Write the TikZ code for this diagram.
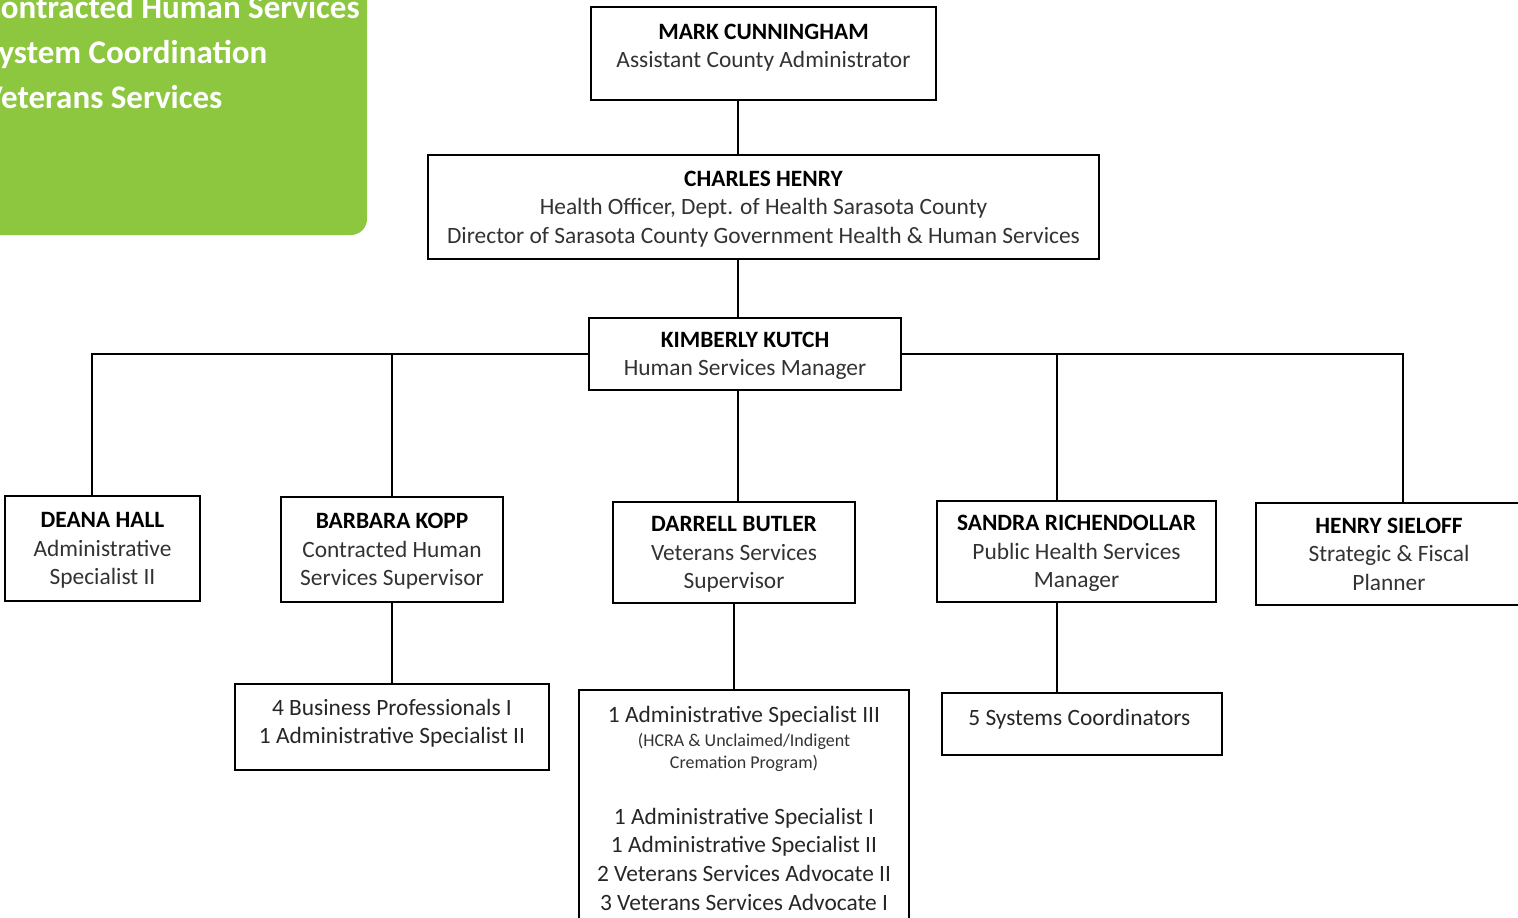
\documentclass[tikz,border=0pt]{standalone}
\usepackage{fontspec}
\setmainfont{Carlito}
\usetikzlibrary{positioning, calc}

\definecolor{panelgreen}{RGB}{141,199,64}
\definecolor{titlegray}{RGB}{50,50,50}

\begin{document}
\begin{tikzpicture}[
  x=0.5pt, y=-0.5pt,
  block/.style = {
    draw,
    line width=1pt,
    text=titlegray,
    font=\fontsize{11.7}{14.3}\selectfont,
    align=center,
    inner sep=2pt,
    text depth=0pt
  },
  staff/.style = {
    block,
    text=black!85
  },
  connector/.style = {line width=1pt},
  panel/.style = {fill=panelgreen, rounded corners=8pt},
  paneltext/.style = {
    text=white,
    font=\fontsize{16.5}{22.5}\selectfont\bfseries,
    align=left,
    inner sep=0pt
  }
]

\useasboundingbox (0,0) rectangle (1518,917);

% ======================================================
% GREEN PANEL (top left)
% ======================================================

\fill[panel] (-40,-40) rectangle (367,235);
\node[paneltext, anchor=north west] (areas) at (-17,-5) {
  Contracted Human Services\\
  System Coordination\\
  Veterans Services
};

% ======================================================
% TOP OF THE CHART
% ======================================================

\node[block, minimum width=172.5pt, minimum height=46.5pt, text depth=7.5pt] (mark) at (763.5,53.5) {
  \textcolor{black}{\textbf{MARK CUNNINGHAM}}\\
  Assistant County Administrator
};

\node[block, minimum width=335.5pt, minimum height=52pt] (charles) at (763.5,207) {
  \textcolor{black}{\textbf{CHARLES HENRY}}\\
  Health Officer, Dept. of Health Sarasota County\\
  Director of Sarasota County Government Health \& Human Services
};

\node[block, minimum width=156pt, minimum height=36pt] (kimberly) at (745,354) {
  \textcolor{black}{\textbf{KIMBERLY KUTCH}}\\
  Human Services Manager
};

% ======================================================
% SUPERVISORS
% ======================================================

\node[block, minimum width=97.5pt, minimum height=52.5pt] (deana) at (102.5,548.5) {
  \textcolor{black}{\textbf{DEANA HALL}}\\
  Administrative\\
  Specialist II
};

\node[block, minimum width=111pt, minimum height=52.5pt] (barbara) at (392,549.5) {
  \textcolor{black}{\textbf{BARBARA KOPP}}\\
  Contracted Human\\
  Services Supervisor
};

\node[block, minimum width=121pt, minimum height=50.5pt, text depth=-2.5pt] (darrell) at (734,552.5) {
  \textcolor{black}{\textbf{DARRELL BUTLER}}\\
  Veterans Services\\
  Supervisor
};

\node[block, minimum width=139.5pt, minimum height=50.5pt, text depth=-2.5pt] (sandra) at (1076.5,551.5) {
  \textcolor{black}{\textbf{SANDRA RICHENDOLLAR}}\\
  Public Health Services\\
  Manager
};

\node[block, minimum width=133pt, minimum height=51pt, text depth=-3pt] (henry) at (1389,554) {
  \textcolor{black}{\textbf{HENRY SIELOFF}}\\
  Strategic \& Fiscal\\
  Planner
};

% ======================================================
% STAFF BOXES
% ======================================================

\node[staff, minimum width=157pt, minimum height=43pt, text depth=5.5pt] (barbara_staff) at (392,727) {
  4 Business Professionals I\\
  1 Administrative Specialist II
};

\node[staff, minimum width=165pt, inner ysep=8pt, anchor=north] (darrell_staff) at (744,689) {
  1 Administrative Specialist III\\[-2.3pt]
  {\fontsize{9}{11}\selectfont\color{titlegray}(HCRA \& Unclaimed/Indigent}\\[-3.3pt]
  {\fontsize{9}{11}\selectfont\color{titlegray}Cremation Program)}\\[13.7pt]
  1 Administrative Specialist I\\
  1 Administrative Specialist II\\
  2 Veterans Services Advocate II\\
  3 Veterans Services Advocate I
};

\node[staff, minimum width=140pt, minimum height=31pt, text depth=6.5pt] (sandra_staff) at (1082,724) {
  5 Systems Coordinators
};

% ======================================================
% CONNECTORS
% ======================================================

\coordinate (spine_x) at (738,0);
\coordinate (left_bus) at (92,355);
\coordinate (right_bus) at (1403,357);
\coordinate (sandra_tap) at (1057,357);

\draw[connector] (mark.south -| spine_x) -- (charles.north -| spine_x);
\draw[connector] (charles.south -| spine_x) -- (kimberly.north -| spine_x);
\draw[connector] (kimberly.south -| spine_x) -- (darrell.north -| spine_x);

\draw[connector]
  (kimberly.west)
    -- (kimberly.west -| left_bus)
    -- (deana.north -| left_bus);
\draw[connector] (kimberly.west -| barbara.north) -- (barbara.north);

\draw[connector]
  (kimberly.east)
    -- (kimberly.east -| right_bus)
    -- (henry.north -| right_bus);
\draw[connector] (kimberly.east -| sandra_tap) -- (sandra.north -| sandra_tap);

\draw[connector] (barbara.south) -- (barbara.south |- barbara_staff.north);
\draw[connector] (darrell.south) -- (darrell.south |- darrell_staff.north);
\draw[connector] (sandra.south -| sandra_tap) -- (sandra_staff.north -| sandra_tap);

\end{tikzpicture}
\end{document}
